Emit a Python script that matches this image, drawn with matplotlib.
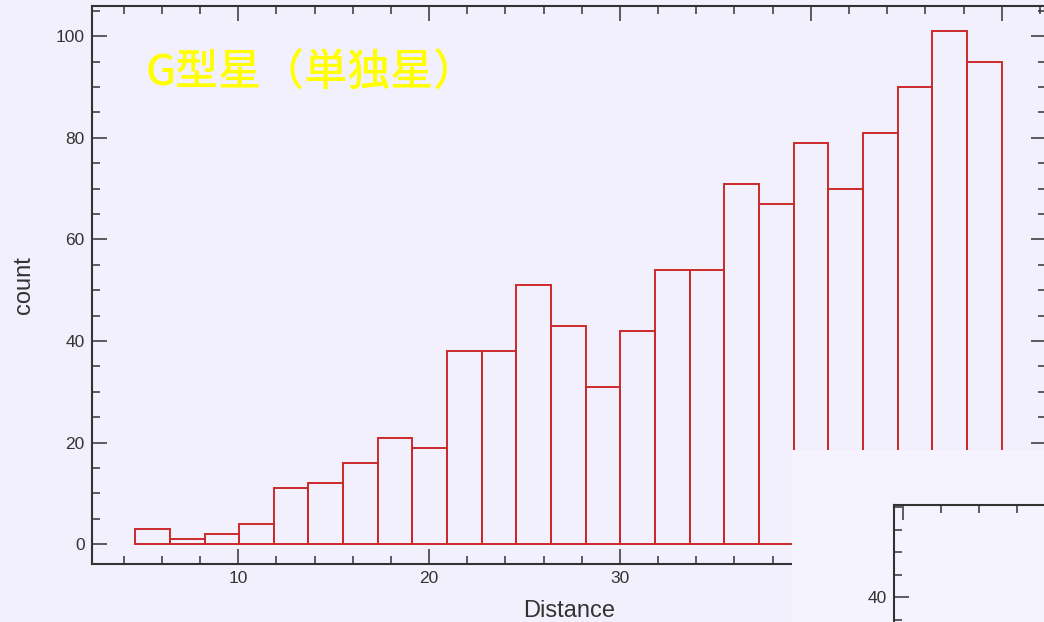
import numpy as np
import matplotlib.pyplot as plt
from matplotlib.patches import Rectangle
from matplotlib.ticker import MultipleLocator

# histogram of distances (25 bins)
bin_lo = 4.6
bin_hi = 50.0
counts = [3, 1, 2, 4, 11, 12, 16, 21, 19, 38, 38, 51, 43, 31, 42,
          54, 54, 71, 67, 79, 70, 81, 90, 101, 95]

title = "G型星（単独星）"
xlab = "Distance"
ylab = "count"

bg = '#f2f0fc'
patch_bg = '#f5f3fd'
edge = '#cc2929'
ink = '#333333'

plt.rcParams['font.family'] = ['Liberation Sans', 'DejaVu Sans']


def style_axis(ax, xmaj, xmin, ymaj, ymin):
	ax.xaxis.set_major_locator(MultipleLocator(xmaj))
	ax.xaxis.set_minor_locator(MultipleLocator(xmin))
	ax.yaxis.set_major_locator(MultipleLocator(ymaj))
	ax.yaxis.set_minor_locator(MultipleLocator(ymin))
	ax.tick_params(which='both', direction='in', top=True, right=True,
				   color=ink, labelcolor=ink, labelsize=12.5, width=1.1, pad=5)
	ax.tick_params(which='major', length=10.5)
	ax.tick_params(which='minor', length=5.5)
	for s in ax.spines.values():
		s.set_color(ink)
		s.set_linewidth(1.5)


fig = plt.figure(figsize=(10.44, 6.22), dpi=100)
fig.patch.set_facecolor(bg)

#
# main histogram
#
ax = fig.add_axes([0.0878, 0.0928, 0.9141, 0.898])
ax.set_facecolor(bg)
edges = np.linspace(bin_lo, bin_hi, len(counts) + 1)
widths = np.diff(edges)
ax.bar(edges[:-1], counts, width=widths, align='edge', fill=False,
	   edgecolor=edge, linewidth=1.4)
ax.set_xlim(2.32, 52.32)
ax.set_ylim(-3.93, 106.0)
style_axis(ax, 10, 2, 20, 5)
ax.set_xlabel(xlab, fontsize=17, color=ink, labelpad=10)
ax.set_ylabel(ylab, fontsize=17, color=ink, labelpad=15)

fig.text(146 / 1044, 1 - 73 / 622, title, color='#ffff00', fontsize=31,
		 family=['Noto Sans CJK JP', 'DejaVu Sans'], fontweight='medium',
		 ha='left', va='center')

#
# covering patch with the corner of another chart
#
fig.patches.append(Rectangle((0.7583, 0), 0.2417, 0.2765, transform=fig.transFigure,
							 facecolor=patch_bg, edgecolor='none', zorder=5))

ax2 = fig.add_axes([0.8566, 0.0, 0.1434, 0.1881], zorder=10)
ax2.set_facecolor(patch_bg)
ax2.set_xlim(-0.45, -0.45 + 149.7 / 19.085)
ax2.set_ylim(48.18 - 117.0 / 11.25, 48.18)
style_axis(ax2, 10, 2, 10, 2)
ax2.set_xticklabels([])
ax2.spines['right'].set_visible(False)
ax2.spines['bottom'].set_visible(False)
ax2.tick_params(which='both', right=False, bottom=False)

fig.savefig('out.png', dpi=100, facecolor=bg)
